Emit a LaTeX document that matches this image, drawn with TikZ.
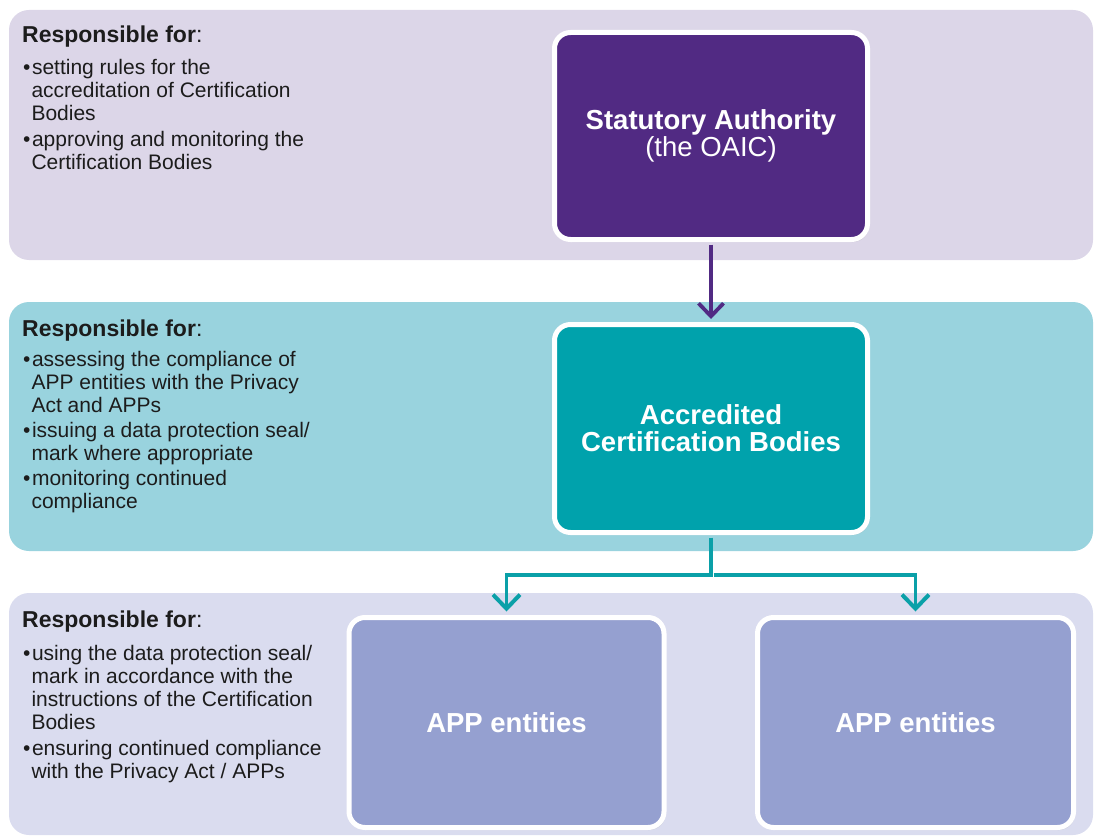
\documentclass[tikz,border=0pt]{standalone}
\usepackage{fontspec}
\setmainfont{Liberation Sans}
\usetikzlibrary{arrows.meta,shadows}
\definecolor{bandA}{HTML}{DCD6E8}
\definecolor{bandB}{HTML}{99D3DE}
\definecolor{bandC}{HTML}{DADCEF}
\definecolor{statC}{HTML}{512A83}
\definecolor{accC}{HTML}{00A2AC}
\definecolor{appC}{HTML}{95A0D0}
\definecolor{tealLine}{HTML}{0AA0A8}
\definecolor{txtC}{HTML}{1C1C1C}
\newcommand{\dgboxfont}{\fontsize{27.5}{27}\selectfont\bfseries}
\newcommand{\dgheadfont}{\fontsize{23}{23}\selectfont\bfseries}
\newcommand{\dgbulfont}{\fontsize{21}{23}\selectfont}
\newcommand{\dgbul}{\textbullet\hspace{1.5pt}}
\newcommand{\dgind}{\phantom{\textbullet}\hspace{1pt}}
\begin{document}
\begin{tikzpicture}[x=1pt,y=-1pt,
  mainbox/.style={rectangle, rounded corners=16pt, draw=white, line width=5pt,
    text=white, align=center, font=\dgboxfont, inner sep=0pt,
    drop shadow={opacity=0.18, shadow xshift=1.5pt, shadow yshift=-2.5pt}},
  head/.style={anchor=base west, inner sep=0pt, text=txtC, font=\dgheadfont},
  bul/.style={anchor=base west, inner sep=0pt, text=txtC, font=\dgbulfont},
  purplearrow/.style={draw=statC, line width=3.5pt,
    -{Straight Barb[length=13pt,width=25pt,line width=3.8pt]},
    shorten <=2.5pt, shorten >=3pt},
  tealarrow/.style={draw=tealLine, line width=3.5pt,
    -{Straight Barb[length=14pt,width=27pt,line width=4pt]},
    shorten <=2.5pt, shorten >=3.5pt}
]
\useasboundingbox (0,0) rectangle (1094,837);
% bands
\fill[bandA, rounded corners=20pt] (9,10) rectangle (1093,260);
\fill[bandB, rounded corners=20pt] (9,302) rectangle (1093,551);
\fill[bandC, rounded corners=20pt] (9,593) rectangle (1093,835);

% boxes
\node[mainbox, fill=statC, minimum width=313pt, minimum height=207pt] (stat) at (711,136)
  {Statutory Authority\\\mdseries(the OAIC)};
\node[mainbox, fill=accC, minimum width=313pt, minimum height=208pt] (acc) at (711,428.5)
  {Accredited\\Certification Bodies};
\node[mainbox, fill=appC, minimum width=315pt, minimum height=210pt] (app1) at (506.5,722.5)
  {APP entities};
\node[mainbox, fill=appC, minimum width=316pt, minimum height=210pt] (app2) at (915.5,722.5)
  {APP entities};

% connectors
\coordinate (split) at (711,575);
\draw[purplearrow] (stat.south) -- (acc.north);
\draw[tealarrow] (acc.south) -- (split) -| (app1.north);
\draw[tealarrow] (split) -| (app2.north);

% texts band 1
\node[head] (h1) at (22,43) {Responsible for\mdseries:};
\node[bul] (t1) at (23,75) {\begin{tabular}[t]{@{}l@{}}
\dgbul setting rules for the\\
\dgind accreditation of Certification\\
\dgind Bodies\\[3pt]
\dgbul approving and monitoring the\\
\dgind Certification Bodies
\end{tabular}};

% texts band 2
\node[head] (h2) at (22,336) {Responsible for\mdseries:};
\node[bul] (t2) at (23,366) {\begin{tabular}[t]{@{}l@{}}
\dgbul assessing the compliance of\\
\dgind APP entities with the Privacy\\
\dgind Act and APPs\\[2pt]
\dgbul issuing a data protection seal/\\
\dgind mark where appropriate\\[2pt]
\dgbul monitoring continued\\
\dgind compliance
\end{tabular}};

% texts band 3
\node[head] (h3) at (22,627) {Responsible for\mdseries:};
\node[bul] (t3) at (23,660) {\begin{tabular}[t]{@{}l@{}}
\dgbul using the data protection seal/\\
\dgind mark in accordance with the\\
\dgind instructions of the Certification\\
\dgind Bodies\\[3pt]
\dgbul ensuring continued compliance\\
\dgind with the Privacy Act / APPs
\end{tabular}};
\end{tikzpicture}
\end{document}
